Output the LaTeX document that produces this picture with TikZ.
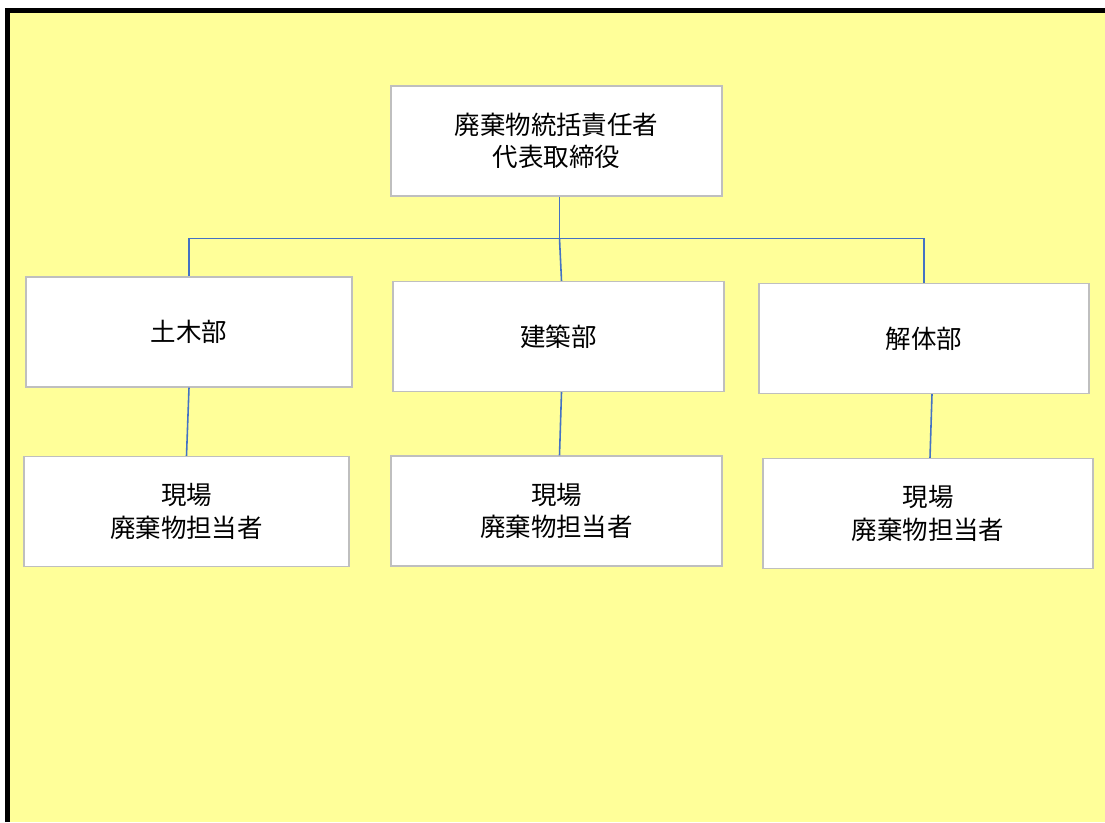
\documentclass[tikz,border=0pt]{standalone}
\usepackage{fontspec}
\setmainfont{Noto Sans CJK JP}
\usepackage{tikz}
\usetikzlibrary{calc,positioning}
\definecolor{hellgelb}{HTML}{FFFF99}
\definecolor{linienblau}{HTML}{4472C4}
\definecolor{rahmengrau}{HTML}{BFBFBF}

\begin{document}
\begin{tikzpicture}[x=0.02cm,y=-0.02cm,
  kasten/.style={draw=rahmengrau,line width=0.8pt,fill=white,align=center,minimum width=6.62cm,minimum height=2.2cm,inner sep=0pt,font=\fontsize{14.5pt}{18.5pt}\selectfont},
  linie/.style={draw=linienblau,line width=0.9pt}]
\useasboundingbox (0,0) rectangle (1105,822);
%Hintergrund mit dickem Rand links und oben
\fill[hellgelb] (10,13) rectangle (1105,822);
\draw[line width=0.1cm] (7.5,822) -- (7.5,10.5) -- (1105,10.5);
%Kaesten (Breite in Pixel)
\node[kasten] (leitung) at (556.5,141) {廃棄物統括責任者\\代表取締役};
\foreach \name/\x/\y/\b/\txt in {tiefbau/189/332/326/土木部, hochbau/558.5/336.5/331/建築部, abbruch/924/338.5/330/解体部}{
  \node[kasten,minimum width=\b*0.02cm] (\name) at (\x,\y) {\txt};
}
\foreach \name/\x/\y/\b in {vorort1/186.5/511.5/325, vorort2/556.5/511/331, vorort3/928/513.5/330}{
  \node[kasten,minimum width=\b*0.02cm] (\name) at (\x,\y) {現場\\廃棄物担当者};
}
%Verbindungen
\coordinate (verteiler) at (559.5,238.5);
\draw[linie] (leitung.south -| verteiler) -- (verteiler);
\draw[linie] (verteiler) -| (tiefbau.north);
\draw[linie] (verteiler) -| (abbruch.north);
\draw[linie] (verteiler) -- ($(hochbau.north)+(3,0)$);
\draw[linie] (tiefbau.south) -- (vorort1.north);
\draw[linie] ($(hochbau.south)+(3,0)$) -- ($(vorort2.north)+(3,0)$);
\draw[linie] ($(abbruch.south)+(8,0)$) -- ($(vorort3.north)+(2,0)$);
\end{tikzpicture}
\end{document}
